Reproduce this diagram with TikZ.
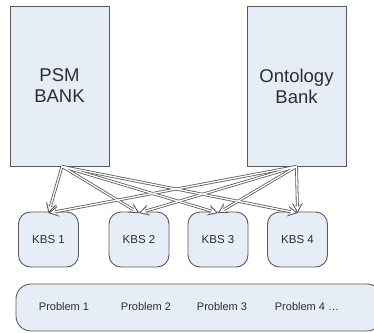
\documentclass[tikz,border=0pt]{standalone}
\usepackage{fontspec}
\setmainfont{Liberation Sans}
\usetikzlibrary{arrows.meta}
\definecolor{boxfill}{HTML}{E6EDF7}
\definecolor{boxline}{HTML}{5A5A5A}
\definecolor{txt}{HTML}{2E2E2E}
\tikzset{
  bank/.style={draw=boxline, line width=0.9pt, fill=boxfill, minimum width=99pt, minimum height=160pt, align=center, text=txt, font=\fontsize{18.5}{21}\selectfont, inner sep=0pt},
  kbs/.style={draw=boxline, line width=0.9pt, fill=boxfill, rounded corners=12pt, minimum width=60pt, minimum height=55pt, text=txt, font=\fontsize{11.5}{13}\selectfont, inner sep=0pt},
  probbox/.style={draw=boxline, line width=0.9pt, fill=boxfill, rounded corners=15pt, minimum width=366pt, minimum height=47pt, inner sep=0pt},
  prob/.style={text=txt, font=\fontsize{11}{13}\selectfont, inner sep=0pt},
  blk/.style={draw=boxline, line width=2.9pt, -{Stealth[length=10pt,width=11pt,inset=4pt]}},
  blkin/.style={draw=white, line width=1.3pt, shorten >=2.1pt, -{Stealth[length=6pt,width=6.5pt,inset=2.2pt]}}
}
\begin{document}
\begin{tikzpicture}[x=1pt,y=1pt]
\useasboundingbox (0,0) rectangle (374,-332);
\node[bank] (psm) at (59.5,-86) {PSM\\BANK};
\node[bank] (ont) at (296.5,-86) {Ontology\\Bank};
\node[kbs] (k1) at (48.5,-239.5) {KBS 1};
\node[kbs] (k2) at (139,-239.5) {KBS 2};
\node[kbs] (k3) at (218,-239.5) {KBS 3};
\node[kbs] (k4) at (297.5,-239.5) {KBS 4};
\node[probbox] (pb) at (199,-307.5) {};
\node[prob] (p1) at (64,-307) {Problem 1};
\node[prob] (p2) at (146,-307) {Problem 2};
\node[prob] (p3) at (222,-307) {Problem 3};
\node[prob] (p4) at (307,-307) {Problem 4 \ldots};
\coordinate (ps) at ([xshift=2.5pt]psm.south);
\coordinate (os) at (ont.south);
\foreach \k in {k1,k2,k3,k4}{
  \draw[blk] (ps) -- ([yshift=-1.5pt]\k.north);
  \draw[blk] (os) -- ([yshift=-1.5pt]\k.north);
}
\foreach \k in {k1,k2,k3,k4}{
  \draw[blkin] (ps) -- ([yshift=-1.5pt]\k.north);
  \draw[blkin] (os) -- ([yshift=-1.5pt]\k.north);
}
\end{tikzpicture}
\end{document}
